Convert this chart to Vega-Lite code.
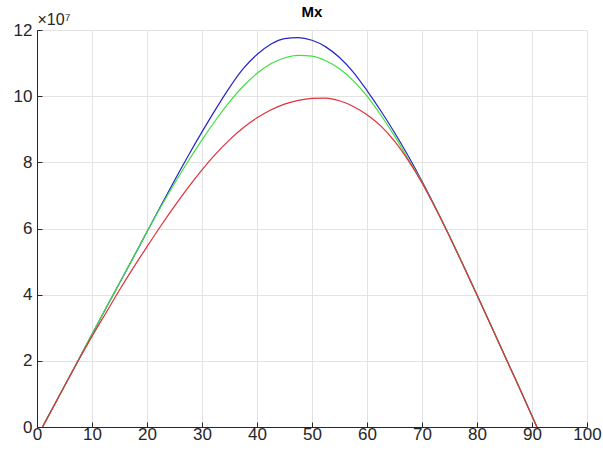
{
  "$schema": "https://vega.github.io/schema/vega-lite/v6.json",
  "width": 550,
  "height": 397,
  "autosize": {"type": "none"},
  "padding": {"left": 37, "top": 30, "right": 16, "bottom": 25},
  "background": "white",
  "title": {"text": "Mx", "fontSize": 15, "fontWeight": "bold", "font": "Liberation Sans", "color": "#000000", "offset": -9},
  "config": {
    "view": {"stroke": null},
    "axis": {"labelFont": "Liberation Sans", "labelFontSize": 17, "labelColor": "#262626", "domainColor": "#262626", "tickColor": "#262626", "gridColor": "#e3e3e3", "gridWidth": 1, "domainWidth": 1}
  },
  "data": {"values": [
    {"x": 1, "s": "b", "m": 0}, {"x": 3, "s": "b", "m": 0.62e7}, {"x": 5, "s": "b", "m": 1.24e7}, {"x": 7.5, "s": "b", "m": 2.02e7}, {"x": 10, "s": "b", "m": 2.8e7}, {"x": 12.5, "s": "b", "m": 3.58e7}, {"x": 15, "s": "b", "m": 4.35e7}, {"x": 17.5, "s": "b", "m": 5.12e7}, {"x": 20, "s": "b", "m": 5.9e7}, {"x": 22.5, "s": "b", "m": 6.68e7}, {"x": 25, "s": "b", "m": 7.45e7}, {"x": 27.5, "s": "b", "m": 8.2e7}, {"x": 30, "s": "b", "m": 8.92e7}, {"x": 32.5, "s": "b", "m": 9.61e7}, {"x": 35, "s": "b", "m": 10.26e7}, {"x": 37.5, "s": "b", "m": 10.83e7}, {"x": 40, "s": "b", "m": 11.26e7}, {"x": 42.5, "s": "b", "m": 11.57e7}, {"x": 45, "s": "b", "m": 11.74e7}, {"x": 47.5, "s": "b", "m": 11.77e7}, {"x": 50, "s": "b", "m": 11.69e7}, {"x": 52.5, "s": "b", "m": 11.49e7}, {"x": 55, "s": "b", "m": 11.17e7}, {"x": 57.5, "s": "b", "m": 10.73e7}, {"x": 60, "s": "b", "m": 10.17e7}, {"x": 62.5, "s": "b", "m": 9.56e7}, {"x": 65, "s": "b", "m": 8.9e7}, {"x": 67.5, "s": "b", "m": 8.19e7}, {"x": 70, "s": "b", "m": 7.43e7}, {"x": 72.5, "s": "b", "m": 6.62e7}, {"x": 75, "s": "b", "m": 5.77e7}, {"x": 77.5, "s": "b", "m": 4.89e7}, {"x": 80, "s": "b", "m": 3.99e7}, {"x": 82.5, "s": "b", "m": 3.08e7}, {"x": 85, "s": "b", "m": 2.17e7}, {"x": 87.5, "s": "b", "m": 1.26e7}, {"x": 90.9, "s": "b", "m": 0},
    {"x": 1, "s": "g", "m": 0}, {"x": 3, "s": "g", "m": 0.62e7}, {"x": 5, "s": "g", "m": 1.24e7}, {"x": 7.5, "s": "g", "m": 2.02e7}, {"x": 10, "s": "g", "m": 2.8e7}, {"x": 12.5, "s": "g", "m": 3.58e7}, {"x": 15, "s": "g", "m": 4.35e7}, {"x": 17.5, "s": "g", "m": 5.12e7}, {"x": 20, "s": "g", "m": 5.9e7}, {"x": 22.5, "s": "g", "m": 6.65e7}, {"x": 25, "s": "g", "m": 7.36e7}, {"x": 27.5, "s": "g", "m": 8.04e7}, {"x": 30, "s": "g", "m": 8.68e7}, {"x": 32.5, "s": "g", "m": 9.28e7}, {"x": 35, "s": "g", "m": 9.83e7}, {"x": 37.5, "s": "g", "m": 10.3e7}, {"x": 40, "s": "g", "m": 10.69e7}, {"x": 42.5, "s": "g", "m": 10.98e7}, {"x": 45, "s": "g", "m": 11.155e7}, {"x": 47.5, "s": "g", "m": 11.23e7}, {"x": 50, "s": "g", "m": 11.21e7}, {"x": 52.5, "s": "g", "m": 11.07e7}, {"x": 55, "s": "g", "m": 10.83e7}, {"x": 57.5, "s": "g", "m": 10.47e7}, {"x": 60, "s": "g", "m": 10.0e7}, {"x": 62.5, "s": "g", "m": 9.43e7}, {"x": 65, "s": "g", "m": 8.8e7}, {"x": 67.5, "s": "g", "m": 8.1e7}, {"x": 70, "s": "g", "m": 7.4e7}, {"x": 72.5, "s": "g", "m": 6.61e7}, {"x": 75, "s": "g", "m": 5.77e7}, {"x": 77.5, "s": "g", "m": 4.89e7}, {"x": 80, "s": "g", "m": 3.99e7}, {"x": 82.5, "s": "g", "m": 3.08e7}, {"x": 85, "s": "g", "m": 2.17e7}, {"x": 87.5, "s": "g", "m": 1.26e7}, {"x": 90.9, "s": "g", "m": 0},
    {"x": 1, "s": "r", "m": 0}, {"x": 3, "s": "r", "m": 0.62e7}, {"x": 5, "s": "r", "m": 1.24e7}, {"x": 7.5, "s": "r", "m": 2.0e7}, {"x": 10, "s": "r", "m": 2.74e7}, {"x": 12.5, "s": "r", "m": 3.44e7}, {"x": 15, "s": "r", "m": 4.14e7}, {"x": 17.5, "s": "r", "m": 4.81e7}, {"x": 20, "s": "r", "m": 5.45e7}, {"x": 22.5, "s": "r", "m": 6.075e7}, {"x": 25, "s": "r", "m": 6.675e7}, {"x": 27.5, "s": "r", "m": 7.245e7}, {"x": 30, "s": "r", "m": 7.775e7}, {"x": 32.5, "s": "r", "m": 8.255e7}, {"x": 35, "s": "r", "m": 8.68e7}, {"x": 37.5, "s": "r", "m": 9.045e7}, {"x": 40, "s": "r", "m": 9.345e7}, {"x": 42.5, "s": "r", "m": 9.583e7}, {"x": 45, "s": "r", "m": 9.758e7}, {"x": 47.5, "s": "r", "m": 9.873e7}, {"x": 50, "s": "r", "m": 9.933e7}, {"x": 52.5, "s": "r", "m": 9.943e7}, {"x": 55, "s": "r", "m": 9.86e7}, {"x": 57.5, "s": "r", "m": 9.69e7}, {"x": 60, "s": "r", "m": 9.44e7}, {"x": 62.5, "s": "r", "m": 9.1e7}, {"x": 65, "s": "r", "m": 8.64e7}, {"x": 67.5, "s": "r", "m": 8.06e7}, {"x": 70, "s": "r", "m": 7.38e7}, {"x": 72.5, "s": "r", "m": 6.6e7}, {"x": 75, "s": "r", "m": 5.76e7}, {"x": 77.5, "s": "r", "m": 4.88e7}, {"x": 80, "s": "r", "m": 3.99e7}, {"x": 82.5, "s": "r", "m": 3.08e7}, {"x": 85, "s": "r", "m": 2.17e7}, {"x": 87.5, "s": "r", "m": 1.26e7}, {"x": 90.9, "s": "r", "m": 0}
  ]},
  "mark": {"type": "line", "strokeWidth": 1.2, "interpolate": "monotone"},
  "encoding": {
    "x": {"field": "x", "type": "quantitative", "scale": {"domain": [0, 100], "nice": false},
      "axis": {"title": null, "values": [0, 10, 20, 30, 40, 50, 60, 70, 80, 90, 100], "tickSize": -5, "labelPadding": 4, "labelFlush": false}},
    "y": {"field": "m", "type": "quantitative", "scale": {"domain": [0, 120000000], "nice": false},
      "axis": {"title": "×10⁷", "titleAngle": 0, "titleAlign": "left", "titleBaseline": "alphabetic", "titleX": 0, "titleY": -6, "titleFont": "Liberation Sans", "titleFontSize": 16, "titleFontWeight": "normal", "titleColor": "#262626",
        "values": [0, 20000000, 40000000, 60000000, 80000000, 100000000, 120000000], "labelExpr": "format(datum.value/1e7, 'd')", "tickSize": -5, "labelPadding": 10, "labelFlush": false}},
    "color": {"field": "s", "type": "nominal", "scale": {"domain": ["b", "g", "r"], "range": ["#2424c8", "#3ee03e", "#e0303a"]}, "legend": null}
  }
}
